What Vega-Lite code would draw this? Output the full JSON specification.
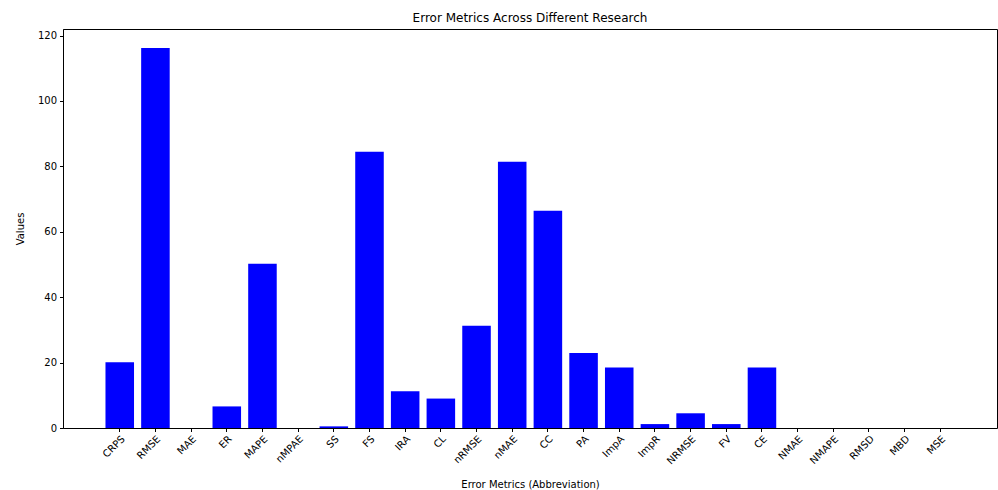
{
  "$schema": "https://vega.github.io/schema/vega-lite/v6.json",
  "autosize": {"type": "none"},
  "width": 934,
  "height": 399,
  "padding": {"left": 63, "top": 29, "right": 1, "bottom": 62},
  "background": "white",
  "config": {
    "font": "DejaVu Sans",
    "view": {"stroke": "black", "strokeWidth": 1},
    "axis": {"labelFont": "DejaVu Sans", "titleFont": "DejaVu Sans", "labelColor": "black", "titleColor": "black", "domainColor": "black", "tickColor": "black", "labelFontSize": 10, "titleFontSize": 10, "titleFontWeight": "normal", "tickSize": 3.5, "grid": false}
  },
  "title": {"text": "Error Metrics Across Different Research", "font": "DejaVu Sans", "fontSize": 12, "fontWeight": "normal", "color": "black", "offset": 4},
  "data": {
    "values": [
      {"metric": "CRPS", "value": 20.1},
      {"metric": "RMSE", "value": 116.2},
      {"metric": "MAE", "value": 0},
      {"metric": "ER", "value": 6.6},
      {"metric": "MAPE", "value": 50.2},
      {"metric": "nMPAE", "value": 0},
      {"metric": "SS", "value": 0.5},
      {"metric": "FS", "value": 84.5},
      {"metric": "IRA", "value": 11.2},
      {"metric": "CL", "value": 9.0},
      {"metric": "nRMSE", "value": 31.3},
      {"metric": "nMAE", "value": 81.4},
      {"metric": "CC", "value": 66.4},
      {"metric": "PA", "value": 22.9},
      {"metric": "ImpA", "value": 18.5},
      {"metric": "ImpR", "value": 1.2},
      {"metric": "NRMSE", "value": 4.5},
      {"metric": "FV", "value": 1.2},
      {"metric": "CE", "value": 18.5},
      {"metric": "NMAE", "value": 0},
      {"metric": "NMAPE", "value": 0},
      {"metric": "RMSD", "value": 0},
      {"metric": "MBD", "value": 0},
      {"metric": "MSE", "value": 0}
    ]
  },
  "mark": {"type": "bar", "color": "#0000ff"},
  "encoding": {
    "x": {
      "field": "metric", "type": "nominal", "sort": null,
      "scale": {"paddingInner": 0.2, "paddingOuter": 1, "range": [6.8, 927.3]},
      "axis": {"title": "Error Metrics (Abbreviation)", "labelAngle": -45, "labelAlign": "right", "labelBaseline": "top", "labelPadding": 2, "titlePadding": 14}
    },
    "y": {
      "field": "value", "type": "quantitative",
      "scale": {"domain": [0, 122], "nice": false},
      "axis": {"title": "Values", "values": [0, 20, 40, 60, 80, 100, 120], "titlePadding": 12, "labelPadding": 3}
    }
  }
}
